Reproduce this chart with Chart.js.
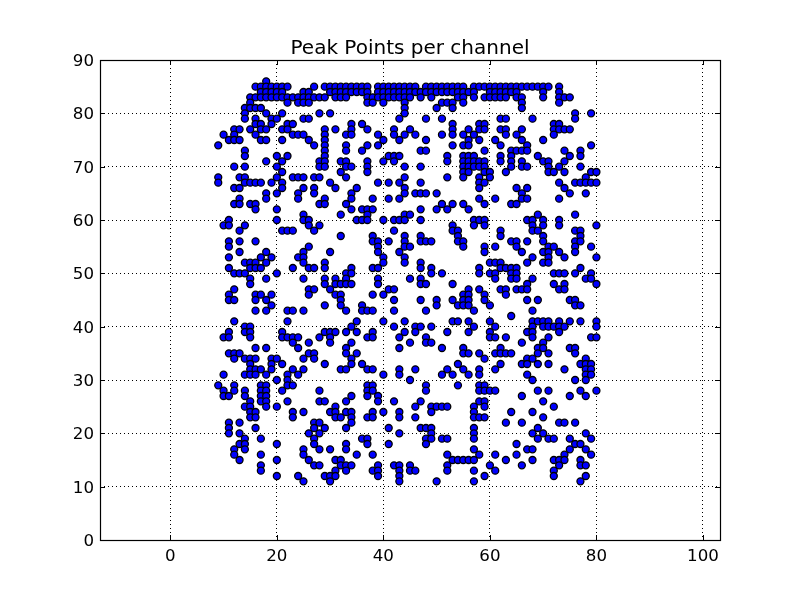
<!DOCTYPE html>
<html>
<head>
<meta charset="utf-8">
<title>Peak Points per channel</title>
<script src="https://cdn.jsdelivr.net/npm/chart.js@4"></script>
<style>
html, body { margin: 0; padding: 0; background: #fff; }
#wrap { width: 800px; height: 600px; }
</style>
</head>
<body>
<div id="wrap"><canvas id="peaks" width="800" height="600"></canvas></div>
<script>
var xTicks = [0, 20, 40, 60, 80, 100];
var yTicks = [0, 10, 20, 30, 40, 50, 60, 70, 80, 90];
// peak value of each row, and the channels that have a peak there
var peakRows = [86,85,84,83,82,81,80,79,78,77,76,75,74,73,72,71,70,69,68,67,66,65,64,63,62,61,60,59,58,57,56,55,54,53,52,51,50,49,48,47,46,45,44,43,42,41,40,39,38,37,36,35,34,33,32,31,30,29,28,27,26,25,24,23,22,21,20,19,18,17,16,15,14,13,12,11];
var peakChannels = [
    [18],
    [16,17,18,19,20,21,22,27,29,30,31,32,33,34,35,36,37,39,40,41,42,43,44,45,46,48,49,50,51,52,53,54,55,57,58,59,60,61,62,63,64,65,66,67,68,69,70,71,73],
    [17,18,19,20,21,25,26,30,31,32,33,34,35,36,37,39,40,41,42,43,44,45,46,47,48,49,50,51,52,53,54,55,56,57,60,61,62,63,64,65,70,73],
    [15,16,17,18,19,20,21,22,23,24,25,26,27,28,29,31,32,33,37,38,39,40,41,42,43,44,45,47,49,54,55,57,59,60,61,62,63,65,66,70,73,74,75],
    [15,22,24,25,26,37,38,40,44,51,52,53,55,66,73],
    [14,15,16,17,44,50,53,66],
    [14,18,21,28,30,44,76,79],
    [14,16,19,20,25,26,43,48,51,62,63,68,76],
    [16,17,19,22,23,34,36,53,58,59,72,73],
    [12,13,15,17,18,21,22,29,31,34,37,42,45,53,56,58,59,62,63,66,72,73,74,75],
    [10,12,16,23,24,25,29,33,34,39,42,44,46,51,53,55,57,63,65,72],
    [11,12,13,17,18,21,26,29,40,43,48,56,58,61,66,70],
    [9,27,29,33,37,39,53,55,56,62,67,79],
    [14,29,33,36,47,48,59,64,65,66,67,74,77],
    [14,20,22,29,41,42,43,52,55,56,57,62,64,69,75,77],
    [18,21,28,29,32,33,37,40,42,52,55,56,57,58,59,62,64,66,70,71,74],
    [12,14,20,28,29,33,34,37,44,47,55,56,57,58,59,64,66,67,71,73,77],
    [21,32,37,55,56,59,60,63,71,72,74,79,80],
    [9,13,14,20,23,24,25,27,28,33,44,52,55,58,60,78],
    [9,14,15,16,17,19,21,30,39,41,43,47,58,59,73,76,77,78,79,80],
    [12,13,21,25,27,31,35,44,58,65,67,74],
    [18,20,24,27,34,44,46,47,48,50,66,75,78],
    [13,18,24,29,34,38,41,43,58,61,66,67,73],
    [12,13,15,16,28,29,33,51,53,55,59,64,65],
    [16,20,34,36,37,38,47,50,52,56],
    [25,32,37,44,45,69,76],
    [11,20,25,26,35,36,37,40,42,43,44,47,57,58,59,67,68,70,73],
    [10,11,14,26,28,53,57,59,68,70,73,80],
    [13,21,22,23,27,42,53,54,62,68,69,76,77],
    [32,38,44,47,54,62,70,77],
    [11,13,16,38,39,41,44,47,48,49,54,55,64,65,67,70,76,77],
    [11,26,39,44,45,55,59,61,65,71,72,76,79],
    [13,18,25,30,39,43,59,66,70,71,73,76],
    [11,17,19,24,25,40,44,68,71,74,80],
    [14,15,16,18,25,29,40,44,47,60,61,62,67,70,71],
    [11,15,16,17,23,26,27,29,34,38,39,47,49,58,62,63,64,65,77],
    [12,13,14,20,33,34,49,51,58,60,61,64,65,72,73,74,76,79],
    [15,18,25,29,31,33,39,45,47,61,64,65,68,78,79],
    [15,29,31,32,33,34,39,47,48,53,67,72,74,80],
    [12,26,27,30,41,42,56,58,62,63,65,66,67,73,74],
    [11,16,17,19,26,31,32,38,40,55,56,59,63],
    [11,12,16,18,32,42,47,50,53,55,56,59,67,69,75,76],
    [19,29,32,36,50,54,55,56,60,76,77],
    [16,18,22,23,25,33,36,37,38,42,48,57,68],
    [64],
    [12,22,35,40,44,53,54,56,60,68,69,70,71,73,75,77,80],
    [14,15,34,42,46,47,49,57,61,68,70,71,72,73,74,80],
    [11,14,15,21,29,30,31,33,35,38,44,46,52,56,60,67,68,73],
    [10,11,15,21,22,23,24,28,30,37,38,43,48,60,61,63,68,71,79,80],
    [23,26,30,34,45,48,49,66,70],
    [16,18,24,33,43,51,55,62,69,70,75,76],
    [11,12,13,26,27,33,35,55,56,58,61,62,63,64,69,71,76],
    [12,14,15,16,19,20,25,27,34,59,67,68,78],
    [15,19,21,29,34,36,54,62,66,67,69,71,77,78,79],
    [15,16,17,19,23,25,32,33,37,38,43,46,52,55,58,61,74,78,79],
    [10,14,15,16,18,22,24,40,43,51,53,56,58,67,78,79],
    [20,22,45,68,76,78],
    [9,12,17,18,22,23,37,38,48,54,58,59],
    [10,12,14,17,18,21,28,37,38,48,58,59,60,61,69,71,77,80],
    [10,11,14,17,18,34,37,39,66,75,78],
    [15,17,18,22,28,29,33,39,42,47,58,59,70],
    [14,15,18,20,31,46,49,50,51,52,57,59,72],
    [15,16,23,25,30,31,33,34,38,40,43,49,57,64,68],
    [15,16,23,31,32,34,37,38,43,46,57,58,59,70],
    [11,13,27,28,34,63,66,73,74,76],
    [11,16,27,29,33,41,47,48,49,57,69],
    [11,13,26,28,43,49,57,68,70,78],
    [14,17,27,36,37,48,49,51,52,57,69,71,72,75,79],
    [13,14,20,27,33,37,41,48,65,76,77],
    [12,14,25,28,30,33,57,67,68,75,78],
    [12,17,25,35,38,52,58,61,65,74,79],
    [13,20,26,31,32,53,54,55,56,57,63,68,72,73,74,77],
    [17,27,28,32,33,34,39,42,43,45,52,60,66,73,77,78],
    [17,31,33,38,39,43,45,46,52,57,61,72],
    [20,24,29,30,31,39,43,59,72,78],
    [25,30,43,50,57,77]
];

var points = [];
for (var i = 0; i < peakRows.length; i++) {
    for (var j = 0; j < peakChannels[i].length; j++) {
        points.push({x: peakChannels[i][j], y: peakRows[i]});
    }
}

// frame and the short inward ticks on all four sides
var framePlugin = {
    id: 'frame',
    afterDatasetsDraw: function(chart) {
        var c = chart.ctx, a = chart.chartArea;
        var sx = chart.scales.x, sy = chart.scales.y;
        var len = 5;
        c.save();
        c.strokeStyle = '#000';
        c.lineWidth = 1;
        c.setLineDash([]);
        c.beginPath();
        sx.ticks.forEach(function(t) {
            var px = Math.round(sx.getPixelForValue(t.value)) + 0.5;
            c.moveTo(px, a.bottom); c.lineTo(px, a.bottom - len);
            c.moveTo(px, a.top); c.lineTo(px, a.top + len);
        });
        sy.ticks.forEach(function(t) {
            var py = Math.round(sy.getPixelForValue(t.value)) + 0.5;
            c.moveTo(a.left, py); c.lineTo(a.left + len, py);
            c.moveTo(a.right, py); c.lineTo(a.right - len, py);
        });
        c.stroke();
        c.lineWidth = 1.2;
        c.strokeRect(a.left + 0.5, a.top + 0.5, a.right - a.left, a.bottom - a.top);
        c.restore();
    }
};

var tickFont = {family: '"DejaVu Sans"', size: 16.67};

new Chart(document.getElementById('peaks'), {
    type: 'scatter',
    data: {
        datasets: [{
            data: points,
            backgroundColor: '#0000ff',
            borderColor: '#000',
            borderWidth: 1.3,
            pointRadius: 3.5,
            pointHoverRadius: 3.5
        }]
    },
    options: {
        responsive: false,
        animation: false,
        layout: {padding: {left: 0, right: 80, top: 0, bottom: 0}},
        plugins: {
            legend: {display: false},
            tooltip: {enabled: false},
            title: {
                display: true,
                fullSize: false,
                text: 'Peak Points per channel',
                color: '#000',
                font: {family: '"DejaVu Sans"', size: 20, weight: 'normal', lineHeight: 1.15},
                padding: {top: 37, bottom: 0}
            }
        },
        scales: {
            x: {
                type: 'linear',
                min: -13.2,
                max: 103.2,
                afterBuildTicks: function(scale) {
                    scale.ticks = xTicks.map(function(v) { return {value: v}; });
                },
                afterFit: function(scale) { scale.height = 60; },
                grid: {color: '#000', lineWidth: 1, drawTicks: false, tickLength: 0},
                border: {display: false, dash: [1, 3]},
                ticks: {color: '#000', font: tickFont, padding: 7, maxRotation: 0}
            },
            y: {
                type: 'linear',
                min: 0,
                max: 90,
                afterBuildTicks: function(scale) {
                    scale.ticks = yTicks.map(function(v) { return {value: v}; });
                },
                afterFit: function(scale) { scale.width = 100; },
                grid: {color: '#000', lineWidth: 1, drawTicks: false, tickLength: 0},
                border: {display: false, dash: [1, 3]},
                ticks: {color: '#000', font: tickFont, padding: 6, labelOffset: 1.5}
            }
        }
    },
    plugins: [framePlugin]
});
</script>
</body>
</html>
